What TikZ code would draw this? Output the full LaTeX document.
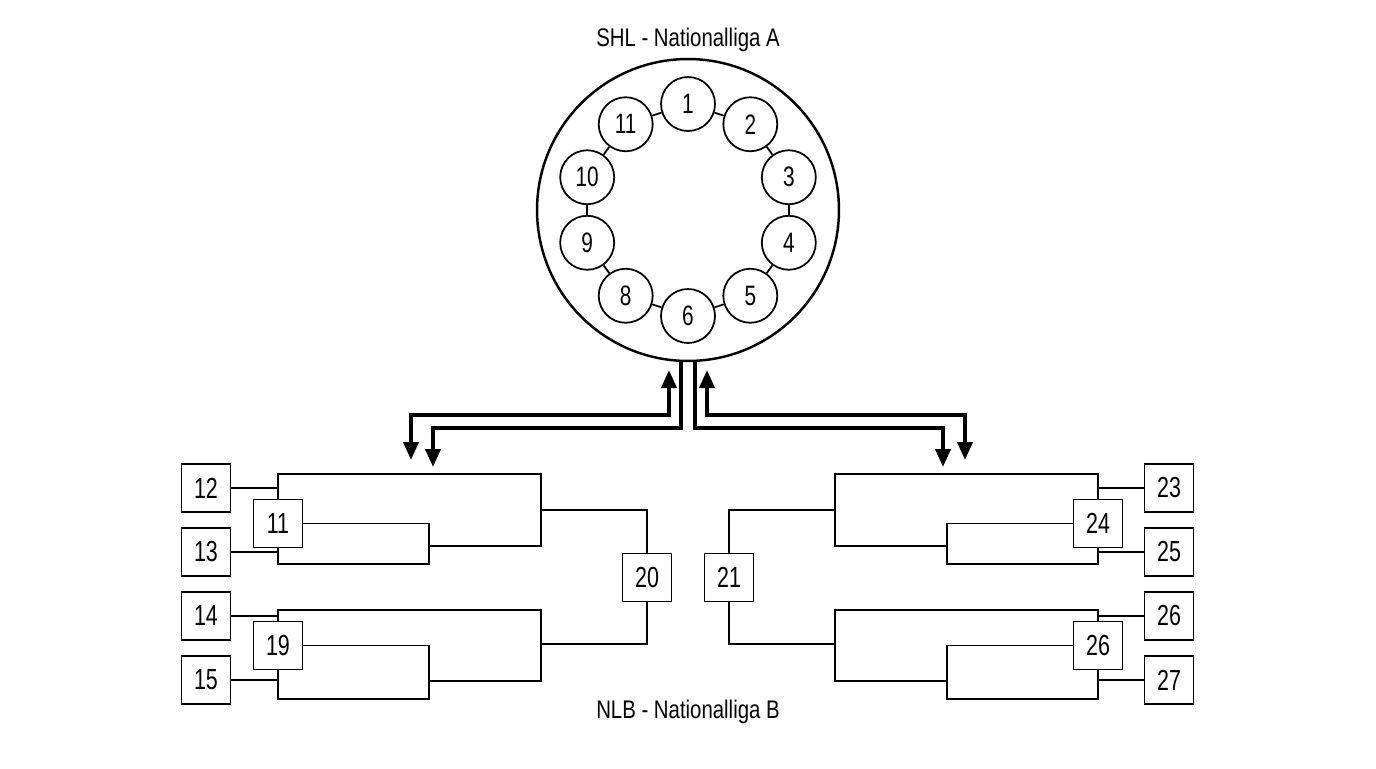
\documentclass[tikz,border=0pt]{standalone}
\usepackage{fontspec}
\setmainfont{Liberation Sans}[FakeStretch=0.8]
\newfontfamily\numfont{Liberation Sans}[FakeStretch=0.74]
\usepackage{tikz}
\usetikzlibrary{arrows.meta}

\tikzset{
  team/.style={draw, line width=1pt, minimum width=0.98cm, minimum height=0.96cm, inner sep=0pt, fill=white, font=\numfont\fontsize{16.5}{18}\selectfont},
  club/.style={circle, draw, line width=1pt, fill=white, minimum size=1.08cm, inner sep=0pt, font=\numfont\fontsize{16}{18}\selectfont},
  link/.style={line width=1pt},
  flow/.style={line width=2.2pt, -{Triangle[length=0.36cm,width=0.3cm]}},
  tip/.style={{Triangle[length=0.36cm,width=0.3cm]}-{Triangle[length=0.36cm,width=0.3cm]}}
}

\begin{document}
\begin{tikzpicture}[x=0.02cm,y=-0.02cm] % pixel grid, y downwards
        \useasboundingbox (0,0) rectangle (1376,768);
        % league A
        \node[font=\fontsize{14.5}{16}\selectfont] (titleA) at (688,40) {SHL - Nationalliga A};
        \node[circle, draw, line width=1.4pt, minimum size=6.04cm, inner sep=0pt] (shl) at (688,210) {};
        \foreach \n/\a in {1/90,2/54,3/18,4/-18,5/-54,6/-90,8/-126,9/-162,10/162,11/126}
                \node[club] (c\n) at ({688+106*cos(\a)},{210-106*sin(\a)}) {\n};
        \foreach \a/\b in {1/2,2/3,3/4,4/5,5/6,6/8,8/9,9/10,10/11,11/1}
                \draw[line width=1pt] (c\a) -- (c\b);
        % exchange arrows
        \coordinate (upL) at (669,370);
        \coordinate (upR) at (707,370);
        \draw[line width=2.2pt, tip] (411,460) |- (669,415) -- (upL);
        \draw[line width=2.2pt, tip] (965,460) |- (707,415) -- (upR);
        \draw[flow] (shl.south) ++(-7,0) |- (433,428) -- (433,467);
        \draw[flow] (shl.south) ++(7,0) |- (943,428) -- (943,467);
        % league B, left
        \node[team] (t12) at (206,488) {12};
        \node[team] (t13) at (206,552) {13};
        \node[team] (t14) at (206,616) {14};
        \node[team] (t15) at (206,680) {15};
        \node[team] (t11) at (278,523.5) {11};
        \node[team] (t19) at (278,645.5) {19};
        \node[team] (t20) at (647,577.5) {20};
        \draw[link] (t12.east) -- (t12.east -| t11.north);
        \draw[link] (t13.east) -- (t13.east -| t11.south);
        \draw[link] (t14.east) -- (t14.east -| t19.north);
        \draw[link] (t15.east) -- (t15.east -| t19.south);
        \draw[link] (t11.north) |- (541,474) |- (429,546);
        \draw[link] (t11.east) -| (429,564) -| (t11.south);
        \draw[link] (t19.north) |- (541,610) |- (429,681);
        \draw[link] (t19.east) -| (429,699) -| (t19.south);
        \draw[link] (t20.north) |- (541,510);
        \draw[link] (t20.south) |- (541,644);
        % league B, right
        \node[team] (t23) at (1169,488) {23};
        \node[team] (t25) at (1169,552) {25};
        \node[team] (t26) at (1169,616) {26};
        \node[team] (t27) at (1169,680) {27};
        \node[team] (t24) at (1098,523.5) {24};
        \node[team] (t26b) at (1098,645.5) {26};
        \node[team] (t21) at (729,577.5) {21};
        \draw[link] (t23.west) -- (t23.west -| t24.north);
        \draw[link] (t25.west) -- (t25.west -| t24.south);
        \draw[link] (t26.west) -- (t26.west -| t26b.north);
        \draw[link] (t27.west) -- (t27.west -| t26b.south);
        \draw[link] (t24.north) |- (835,474) |- (947,546);
        \draw[link] (t24.west) -| (947,564) -| (t24.south);
        \draw[link] (t26b.north) |- (835,610) |- (947,681);
        \draw[link] (t26b.west) -| (947,699) -| (t26b.south);
        \draw[link] (t21.north) |- (835,510);
        \draw[link] (t21.south) |- (835,644);
        \node[font=\fontsize{14.5}{16}\selectfont] (titleB) at (688,712) {NLB - Nationalliga B};
\end{tikzpicture}
\end{document}
